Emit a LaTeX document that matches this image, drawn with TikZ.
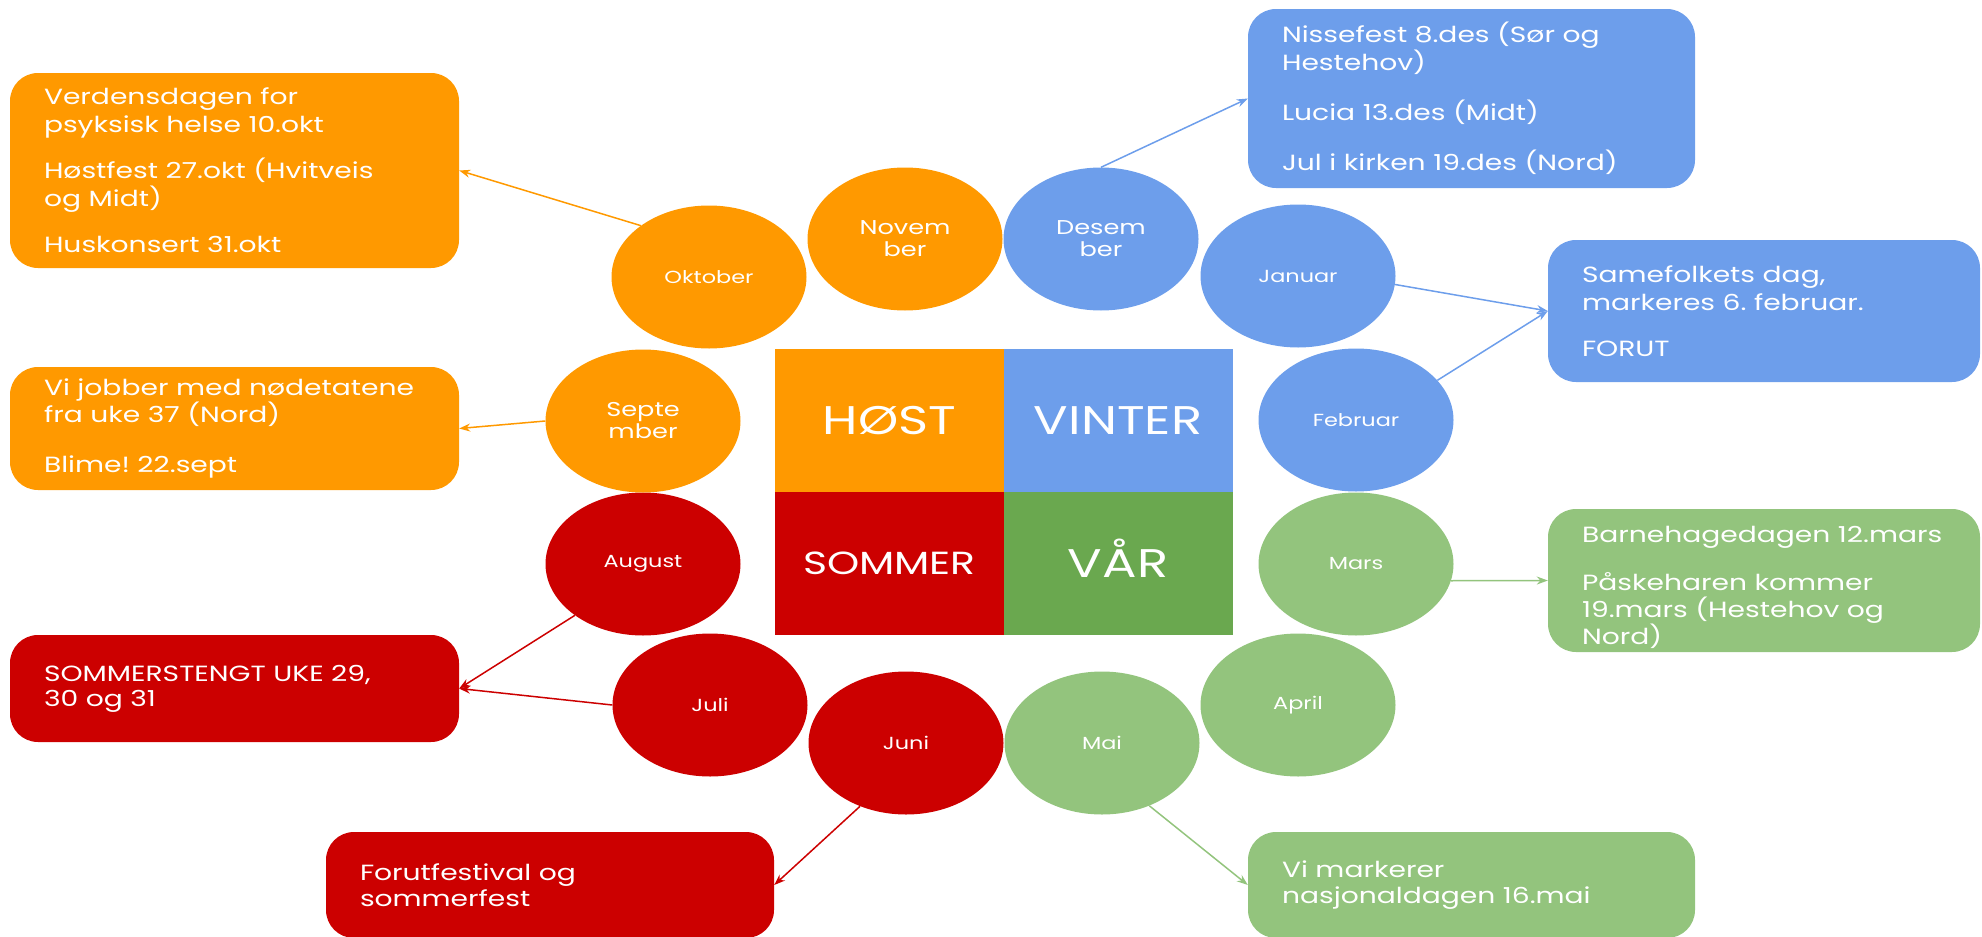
\documentclass[tikz,border=0pt]{standalone}
\usepackage{fontspec}
\setmainfont{Poppins}[FakeStretch=1.28]
\usetikzlibrary{shapes.geometric,arrows.meta}
\definecolor{orng}{HTML}{FF9900}
\definecolor{blu}{HTML}{6D9EEB}
\definecolor{rd}{HTML}{CC0000}
\definecolor{grn}{HTML}{6AA84F}
\definecolor{lgrn}{HTML}{93C47D}
\begin{document}
\frenchspacing
\begin{tikzpicture}[x=1pt,y=-1pt,
  month/.style={ellipse, fill=#1, minimum width=195pt, minimum height=143pt, inner sep=0pt,
    text=white, align=center, font=\fontsize{17.5}{21}\selectfont},
  bigmonth/.style={month=#1, font=\fontsize{20}{22}\selectfont},
  season/.style={rectangle, fill=#1, inner sep=0pt, minimum width=229pt, minimum height=143pt,
    text=white, font=\fontsize{40}{44}\selectfont, text height=28pt, text depth=0pt},
  evbox/.style={rectangle, rounded corners=28pt, fill=#1, inner sep=0pt},
  evtext/.style={anchor=west, xshift=34pt, text=white, align=left, inner sep=0pt},
  conn/.style={draw=#1, line width=1.5pt, -{Stealth[length=11pt,width=8pt]}}
]
\useasboundingbox (0,0) rectangle (1982,937);

% seasons
\node[season=orng] (host) at (889.5,420.5) {HØST};
\node[season=blu] (vinter) at (1118,420.5) {VINTER};
\node[season=rd, font=\fontsize{32}{36}\selectfont, text height=22.5pt] (sommer) at (889.5,563.5) {SOMMER};
\node[season=grn] (var) at (1118,563.5) {VÅR};

% months
\node[month=orng] (okt) at (709,277) {Oktober};
\node[bigmonth=orng] (nov) at (905,239) {Novem\\ber};
\node[bigmonth=blu] (des) at (1101,239) {Desem\\ber};
\node[month=blu] (jan) at (1298,276) {Januar};
\node[month=blu] (feb) at (1356,420) {Februar};
\node[month=lgrn] (mar) at (1356,564) {Mars};
\node[month=lgrn] (apr) at (1298,705) {April};
\node[month=lgrn] (mai) at (1102,743) {Mai};
\node[month=rd] (jun) at (906,743) {Juni};
\node[month=rd] (jul) at (710,705) {Juli};
\node[month=rd] (aug) at (643,564) {August};
\node[bigmonth=orng] (sep) at (643,421) {Septe\\mber};

% event boxes
\node[evbox=orng, minimum width=449pt, minimum height=195pt] (oktbox) at (234.5,170.5) {};
\node[evtext, font=\fontsize{22}{28}\selectfont] (okttext) at (oktbox.west)
  {Verdensdagen for\\psyksisk helse 10.okt\\[18pt]Høstfest 27.okt (Hvitveis\\og Midt)\\[18pt]Huskonsert 31.okt};

\node[evbox=blu, minimum width=447pt, minimum height=179pt] (desbox) at (1471.5,98.5) {};
\node[evtext, font=\fontsize{22}{24}\selectfont] (destext) at (desbox.west)
  {Nissefest 8.des (Sør og\\Hestehov)\\[25pt]Lucia 13.des (Midt)\\[24pt]Jul i kirken 19.des (Nord)};

\node[evbox=blu, minimum width=432pt, minimum height=142pt] (janbox) at (1764,311) {};
\node[evtext, font=\fontsize{22}{28}\selectfont] (jantext) at (janbox.west)
  {Samefolkets dag,\\markeres 6. februar.\\[18pt]FORUT};

\node[evbox=orng, minimum width=449pt, minimum height=123pt] (sepbox) at (234.5,428.5) {};
\node[evtext, font=\fontsize{22}{25}\selectfont] (septext) at (sepbox.west)
  {Vi jobber med nødetatene\\fra uke 37 (Nord)\\[25pt]Blime! 22.sept};

\node[evbox=lgrn, minimum width=432pt, minimum height=143pt] (marbox) at (1764,580.5) {};
\node[evtext, font=\fontsize{22}{27}\selectfont, yshift=-7pt] (martext) at (marbox.west)
  {Barnehagedagen 12.mars\\[21pt]Påskeharen kommer\\19.mars (Hestehov og\\Nord)};

\node[evbox=rd, minimum width=449pt, minimum height=107pt] (julbox) at (234.5,688.5) {};
\node[evtext, font=\fontsize{22}{25}\selectfont] (jultext) at (julbox.west)
  {SOMMERSTENGT UKE 29,\\30 og 31};

\node[evbox=rd, minimum width=448pt, minimum height=106pt] (junbox) at (550,885) {};
\node[evtext, font=\fontsize{22}{26.5}\selectfont] (juntext) at (junbox.west)
  {Forutfestival og\\sommerfest};

\node[evbox=lgrn, minimum width=447pt, minimum height=106pt] (maibox) at (1471.5,885) {};
\node[evtext, font=\fontsize{22}{26.5}\selectfont] (maitext) at (maibox.west)
  {Vi markerer\\nasjonaldagen 16.mai};

% connectors
\draw[conn=orng] (okt.143) -- (oktbox.east);
\draw[conn=orng] (sep.west) -- (sepbox.east);
\draw[conn=blu] (des.north) -- (desbox.west);
\draw[conn=blu] (jan.-5) -- (janbox.west);
\draw[conn=blu] (feb.26) -- (janbox.west);
\draw[conn=lgrn] (mar.-10) -- (marbox.west);
\draw[conn=lgrn] (mai.-53) -- (maibox.west);
\draw[conn=rd] (aug.217) -- (julbox.east);
\draw[conn=rd] (jul.west) -- (julbox.east);
\draw[conn=rd] (jun.-126) -- (junbox.east);
\end{tikzpicture}
\end{document}
